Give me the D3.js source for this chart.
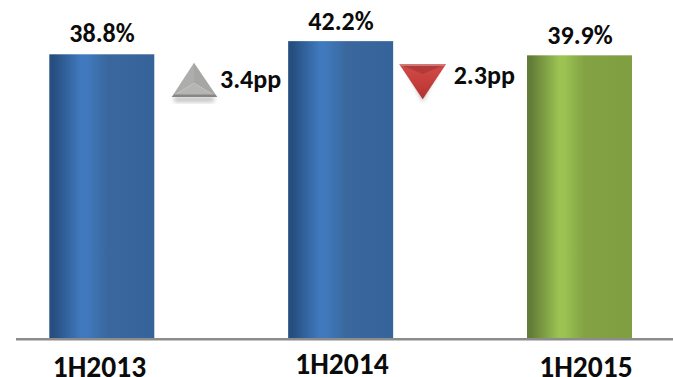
<!DOCTYPE html>
<html><head><meta charset="utf-8">
<script src="https://cdn.jsdelivr.net/npm/d3@7/dist/d3.min.js"></script>
<style>html,body{margin:0;padding:0;background:#fff}svg{display:block}text{font-family:Carlito,"Open Sans","Noto Sans",sans-serif;font-weight:700;fill:#0b0b0b}</style>
</head><body><script>
const categories = ["1H2013","1H2014","1H2015"];
const valueLabels = ["38.8%","42.2%","39.9%"];
// Drawn bar heights (the source bars are not proportional to their labels)
const barHeights = [38.8, 40.6, 38.66];
const barThemes = ["blue","blue","green"];
const changeLabels = ["3.4pp","2.3pp"];
const changeDirections = ["up","down"];

const W=673,H=377;
const svg=d3.select("body").append("svg").attr("width",W).attr("height",H);
const xs=d3.scalePoint().domain(categories).range([101.8,579.5]);
const y=d3.scaleLinear().domain([0,38.8]).range([338,54.3]);
const defs=svg.append("defs");
const themes={blue:["#264e80","#4079bd","#3a689e","#35639a"],green:["#627d37","#9bc252","#82a243","#7f9e40"]};
Object.entries(themes).forEach(([k,c])=>{
 const g=defs.append("linearGradient").attr("id","g-"+k);
 [[0,c[0]],[.04,c[0]],[.3,c[1]],[.36,c[1]],[.55,c[2]],[1,c[3]]].forEach(s=>g.append("stop").attr("offset",s[0]).attr("stop-color",s[1]));
});
const bw=105;
svg.selectAll("rect.bar").data(categories).join("rect").attr("class","bar")
 .attr("x",d=>xs(d)-bw/2).attr("width",bw)
 .attr("y",(d,i)=>y(barHeights[i])).attr("height",(d,i)=>y(0)-y(barHeights[i]))
 .attr("fill",(d,i)=>`url(#g-${barThemes[i]})`);
svg.append("line").attr("x1",16).attr("x2",673).attr("y1",339.2).attr("y2",339.2).attr("stroke","#8c8c8c").attr("stroke-width",2.5);
const lblX=[102,341,580], lblY=[41.5,30,44];
const catX=[99.5,342,586], catY=[376.5,374,376.5];
svg.selectAll("text.val").data(valueLabels).join("text").attr("class","val")
 .attr("x",(d,i)=>lblX[i]).attr("y",(d,i)=>lblY[i]).attr("text-anchor","middle").attr("font-size",26).text(d=>d);
svg.selectAll("text.cat").data(categories).join("text").attr("class","cat")
 .attr("x",(d,i)=>catX[i]).attr("y",(d,i)=>catY[i]).attr("text-anchor","middle").attr("font-size",29.5).text(d=>d);
// markers
const sh=defs.append("filter").attr("id","sh").attr("x","-30%").attr("y","-30%").attr("width","160%").attr("height","170%");
sh.append("feGaussianBlur").attr("stdDeviation",2);
const p=a=>a.map(q=>q.join(",")).join(" ");
// up triangle
(function(){
 const A=[194,62.7],B=[171.7,97],C=[217.3,97],M=[194,83];
 svg.append("rect").attr("x",174).attr("y",97).attr("width",40).attr("height",5).attr("fill","#000").attr("opacity",.25).attr("filter","url(#sh)");
 svg.append("polygon").attr("points",p([A,B,M])).attr("fill","#adadab");
 svg.append("polygon").attr("points",p([A,C,M])).attr("fill","#a6a6a4");
 svg.append("polygon").attr("points",p([B,C,M])).attr("fill","#b5b5b3");
 svg.append("polygon").attr("points",p([[171.7,97],[217.3,97],[215,94.5],[174,94.5]])).attr("fill","#868684");
})();
// down triangle
(function(){
 const A=[422.7,99.3],B=[399.3,64.3],C=[446,64.3],M=[422.7,74];
 svg.append("polygon").attr("points",p([[A[0],A[1]+3],[406,68],[439,68]])).attr("fill","#000").attr("opacity",.25).attr("filter","url(#sh)");
 const g=defs.append("linearGradient").attr("id","red").attr("x1",0).attr("y1",0).attr("x2",0).attr("y2",1);
 g.append("stop").attr("offset",0).attr("stop-color","#d04b48");
 g.append("stop").attr("offset",.5).attr("stop-color","#c63f3c");
 g.append("stop").attr("offset",1).attr("stop-color","#ad3230");
 svg.append("polygon").attr("points",p([A,B,C])).attr("fill","url(#red)");
 svg.append("polygon").attr("points",p([B,C,M])).attr("fill","#b23a38");
 svg.append("polygon").attr("points",p([B,C,[444,65.8],[401,65.8]])).attr("fill","#d98a88");
})();
const chgX=[220,453.7], chgY=[87.7,84];
changeLabels.forEach((t,i)=>svg.append("text").attr("x",chgX[i]).attr("y",chgY[i]).attr("font-size",26).attr("data-dir",changeDirections[i]).text(t));
</script></body></html>
